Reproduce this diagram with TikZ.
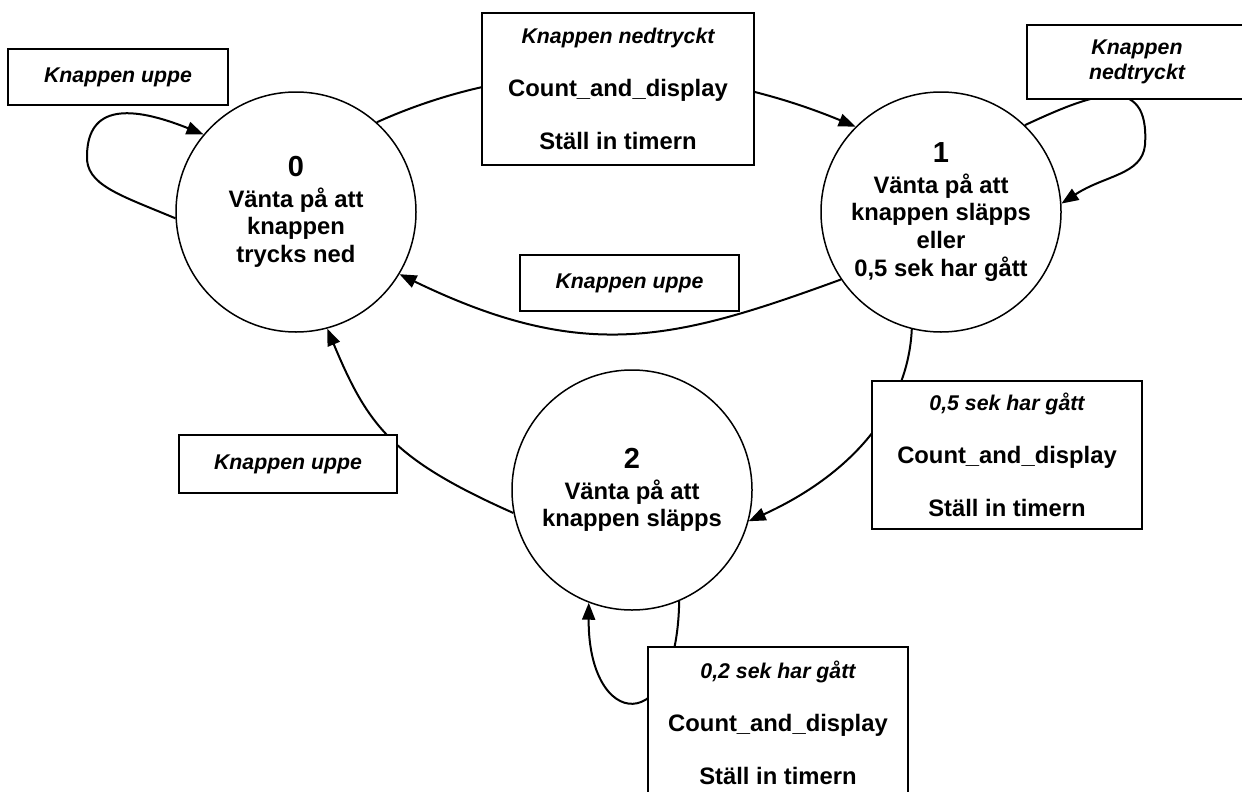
\documentclass[tikz,border=0pt]{standalone}
\usepackage{fontspec}
\setmainfont{Liberation Sans}
\usetikzlibrary{arrows.meta}
\newcommand\condfont{\itshape\fontsize{21.3}{53}\selectfont}
\newcommand\digitfont{\fontsize{29}{31}\selectfont}
\tikzset{
  state/.style={circle, draw, line width=1.5pt, minimum size=240pt, inner sep=0pt, align=center,
    font=\bfseries\fontsize{23.8}{27.6}\selectfont},
  lbl/.style={draw, fill=white, line width=2pt, inner sep=0pt, align=center,
    font=\bfseries\itshape\fontsize{21.3}{24.5}\selectfont},
  actbox/.style={draw, fill=white, line width=2pt, inner sep=0pt, align=center,
    font=\bfseries\fontsize{23.8}{53}\selectfont},
  conn/.style={line width=2pt, -{Triangle[length=17pt,width=13pt]}}
}
\begin{document}
\begin{tikzpicture}[x=1pt,y=-1pt]
\useasboundingbox (0,0) rectangle (1242,792);
\fill[white] (0,0) rectangle (1242,792);

\node[state] (s0) at (296,212) {{\digitfont 0}\\[3pt]Vänta på att\\knappen\\trycks ned};
\node[state] (s1) at (941,212) {{\digitfont 1}\\[3pt]Vänta på att\\knappen släpps\\eller\\0,5 sek har gått};
\node[state] (s2) at (632,490) {{\digitfont 2}\\[3pt]Vänta på att\\knappen släpps};

% connectors
\draw[conn] (s0.183) .. controls (120,195) and (85,185) .. (87,155)
            .. controls (88,105) and (130,105) .. (s0.140);
\draw[conn] (s0.48) .. controls (535,51) and (704,64) .. (s1.135);
\draw[conn] (s1.46) .. controls (1090,95) and (1150,70) .. (1145,145)
            .. controls (1142,175) and (1105,175) .. (s1.4);
\draw[conn] (s1.214) .. controls (675,340) and (585,364) .. (s0.329);
\draw[conn] (s1.256) .. controls (908,410) and (850,475) .. (s2.-15);
\draw[conn] (s2.191) .. controls (392,459) and (368,426) .. (s0.285);
\draw[conn] (s2.293) .. controls (677,740) and (588,730) .. (s2.249);

% labels
\node[lbl, minimum width=220pt, minimum height=56pt] (la) at (118,77) {Knappen uppe};
\node[actbox, minimum width=272pt, minimum height=152pt] (lb) at (618,89)
  {{\condfont Knappen nedtryckt}\\Count\_and\_display\\Ställ in timern};
\node[lbl, minimum width=220pt, minimum height=74pt] (lc) at (1137,62) {Knappen\\nedtryckt};
\node[lbl, minimum width=219pt, minimum height=56pt] (ld) at (629.5,283) {Knappen uppe};
\node[actbox, minimum width=270pt, minimum height=148pt] (le) at (1007,455)
  {{\condfont 0,5 sek har gått}\\Count\_and\_display\\Ställ in timern};
\node[lbl, minimum width=218pt, minimum height=58pt] (lf) at (288,464) {Knappen uppe};
\node[actbox, minimum width=260pt, minimum height=152pt] (lg) at (778,723)
  {{\condfont 0,2 sek har gått}\\Count\_and\_display\\Ställ in timern};
\end{tikzpicture}
\end{document}
